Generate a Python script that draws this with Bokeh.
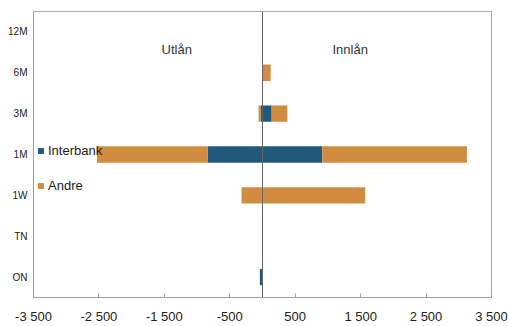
from bokeh.plotting import figure
from bokeh.models import (Range1d, FixedTicker, Span, Label, Legend, LegendItem,
                          ColumnDataSource)
from bokeh.embed import file_html
from bokeh.resources import INLINE

# Maturity buckets, bottom to top
categories = ["ON", "TN", "1W", "1M", "3M", "6M", "12M"]

# Lending (negative, left) and deposits (positive, right), split by counterparty
utlan_interbank = [-40, 0, 0, -840, -30, 0, 0]
utlan_andre = [0, 0, -320, -1690, -30, 0, 0]
innlan_interbank = [0, 0, 0, 915, 140, 0, 0]
innlan_andre = [0, 0, 1570, 2210, 240, 125, 0]

x_ticks = [-3500, -2500, -1500, -500, 500, 1500, 2500, 3500]
x_tick_labels = ["-3 500", "-2 500", "-1 500", "-500", "500", "1 500", "2 500", "3 500"]

BLUE = "#1f5a7c"
ORANGE = "#d28c40"
FONT = "Liberation Sans"

ypos = [i + 0.5 for i in range(len(categories))]
src = ColumnDataSource(dict(
    y=ypos,
    ui=utlan_interbank, ua=utlan_andre,
    ii=innlan_interbank, ia=innlan_andre,
))

p = figure(width=508, height=326, output_backend="svg", toolbar_location=None,
           x_range=Range1d(-3500, 3500), y_range=Range1d(0, len(categories)),
           min_border_left=33, min_border_right=17, min_border_top=11,
           min_border_bottom=28)
p.background_fill_color = "white"
p.border_fill_color = "white"
p.outline_line_color = "#a8a8a8"
p.grid.visible = False

left = p.hbar_stack(["ui", "ua"], y="y", height=0.4, source=src,
                    color=[BLUE, ORANGE], line_color=None)
right = p.hbar_stack(["ii", "ia"], y="y", height=0.4, source=src,
                     color=[BLUE, ORANGE], line_color=None)

p.add_layout(Span(location=0, dimension="height", line_color="#666666", line_width=1))

# x axis
xa = p.xaxis[0]
xa.ticker = FixedTicker(ticks=x_ticks)
xa.major_label_overrides = {t: s for t, s in zip(x_ticks, x_tick_labels)}
xa.major_tick_in = 4
xa.major_tick_out = 0
xa.minor_tick_line_color = None
xa.major_tick_line_color = "#a0a0a0"
xa.axis_line_color = "#a0a0a0"
xa.major_label_text_font = FONT
xa.major_label_text_font_size = "13px"
xa.major_label_text_color = "#222222"
xa.major_label_standoff = 11

# y axis
ya = p.yaxis[0]
ya.ticker = FixedTicker(ticks=ypos)
ya.major_label_overrides = {y: c for y, c in zip(ypos, categories)}
ya.major_tick_in = 0
ya.major_tick_out = 0
ya.minor_tick_line_color = None
ya.axis_line_color = "#a0a0a0"
ya.major_label_text_font = FONT
ya.major_label_text_font_size = "10px"
ya.major_label_text_color = "#222222"
ya.major_label_standoff = 6

for txt, xv in (("Utlån", -1310), ("Innlån", 1340)):
    p.add_layout(Label(x=xv, y=6.06, text=txt, text_align="center",
                       text_baseline="middle", text_font=FONT,
                       text_font_size="13px", text_color="#333333"))

legend = Legend(items=[
    LegendItem(label="Interbank", renderers=[left[0], right[0]]),
    LegendItem(label="Andre", renderers=[left[1], right[1]]),
], location=(4, 102))
legend.background_fill_alpha = 0
legend.border_line_color = None
legend.padding = 0
legend.margin = 0
legend.spacing = 15
legend.glyph_width = 7
legend.glyph_height = 7
legend.label_height = 20
legend.label_standoff = 4
legend.label_text_font = FONT
legend.label_text_font_size = "13px"
legend.label_text_color = "#222222"
p.add_layout(legend)

open("out.html", "w").write(file_html(p, INLINE))
